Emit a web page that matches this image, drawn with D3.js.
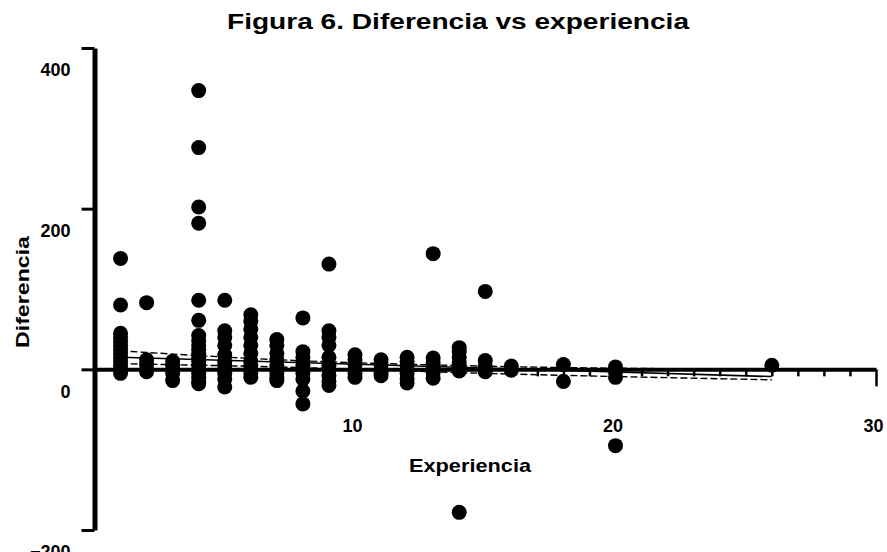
<!DOCTYPE html>
<html>
<head>
<meta charset="utf-8">
<script src="https://cdn.jsdelivr.net/npm/d3@7/dist/d3.min.js"></script>
<style>
  body { margin: 0; background: #fff; }
  svg { display: block; }
  text { font-family: "Liberation Sans Narrow", "Liberation Sans", Arial, sans-serif; font-weight: bold; fill: #000; }
</style>
</head>
<body>
<svg id="chart" width="887" height="552"></svg>
<script>
// ---- data ----
const chartTitle = "Figura 6. Diferencia vs experiencia";
const xTitle = "Experiencia";
const yTitle = "Diferencia";
const xTickLabels = [10, 20, 30];
const yTickValues = [400, 200, 0, -200];

// experience (years) of each column of points
const expYears = [1, 2, 3, 4, 5, 6, 7, 8, 9, 10, 11, 12, 13, 14, 15, 16, 18, 20, 26];
// "Diferencia" values in each column
const difValues = [
  [138, 80, 45, 40, 35, 30, 25, 20, 15, 10, 5, 0, -5],
  [83, 12, 6, 0, -3],
  [10, 5, 0, -5, -14],
  [347, 276, 202, 182, 86, 61, 42, 36, 30, 25, 20, 15, 10, 5, 0, -5, -10, -15, -18],
  [86, 48, 40, 30, 18, 10, 5, 0, -5, -12, -22],
  [68, 60, 50, 40, 30, 20, 10, 5, 0, -5, -10],
  [37, 30, 20, 12, 5, 0, -5, -10, -14],
  [64, 22, 15, 10, 5, 0, -5, -12, -27, -43],
  [131, 48, 40, 30, 15, 5, 0, -8, -15, -20],
  [18, 12, 6, 0, -5, -10],
  [12, 6, 0, -4, -8],
  [15, 10, 5, 0, -5, -12, -17],
  [144, 14, 8, 2, -4, -11],
  [27, 22, 15, 8, 2, -2, -178],
  [97, 11, 4, -3],
  [4, -1],
  [6, -15],
  [3, -3, -10, -95],
  [5]
];

// fitted line and its band
const fitX = [1, 26];
const fitY = [15, -9];
const bandX = [1, 7, 15, 26];
const bandUpper = [23, 12, 4, 0];
const bandLower = [7, 3, -5, -13];

// ---- drawing ----
const svg = d3.select("#chart");
const x = d3.scaleLinear().domain([0, 30]).range([94.5, 876]);
const y = d3.scaleLinear().domain([-200, 400]).range([530, 48]);

const points = [];
expYears.forEach((e, i) => difValues[i].forEach(v => points.push({ e, v })));

// title
svg.append("text")
  .attr("x", 458).attr("y", 29)
  .attr("text-anchor", "middle")
  .attr("font-size", 22)
  .attr("textLength", 462).attr("lengthAdjust", "spacingAndGlyphs")
  .text(chartTitle);

// points
svg.append("g").selectAll("circle")
  .data(points).join("circle")
  .attr("cx", d => x(d.e))
  .attr("cy", d => y(d.v))
  .attr("r", 7.5)
  .attr("fill", "#000");

// fitted line
const line = d3.line().x(d => x(d[0])).y(d => y(d[1]));
svg.append("path")
  .attr("d", line(fitX.map((v, i) => [v, fitY[i]])))
  .attr("fill", "none").attr("stroke", "#000").attr("stroke-width", 1.6);
[bandUpper, bandLower].forEach(b => {
  svg.append("path")
    .attr("d", d3.line().curve(d3.curveMonotoneX).x(d => x(d[0])).y(d => y(d[1]))(bandX.map((v, i) => [v, b[i]])))
    .attr("fill", "none").attr("stroke", "#000").attr("stroke-width", 1.4)
    .attr("stroke-dasharray", "7,3");
});

// x axis
const xAxis = d3.axisBottom(x)
  .tickValues(d3.range(1, 31))
  .tickSize(7)
  .tickSizeOuter(0)
  .tickFormat(d => xTickLabels.includes(d) ? d : "");
const gx = svg.append("g").attr("transform", `translate(0,${y(0)})`).call(xAxis);
gx.select(".domain").attr("stroke-width", 4).attr("stroke", "#000");
gx.selectAll(".tick line").attr("stroke-width", 2.5).attr("stroke", "#000")
  .attr("y2", d => d === 30 ? 17 : 7);
gx.selectAll(".tick text")
  .attr("y", 50).attr("dx", -3)
  .attr("font-size", 18).attr("font-family", null);

// y axis
const yAxis = d3.axisLeft(y)
  .tickValues(yTickValues)
  .tickSize(13)
  .tickPadding(11)
  .tickSizeOuter(0);
const gy = svg.append("g").attr("transform", `translate(${x(0)},0)`).call(yAxis);
gy.select(".domain").attr("stroke-width", 5).attr("stroke", "#000");
gy.selectAll(".tick line").attr("stroke-width", 3).attr("stroke", "#000");
gy.selectAll(".tick text")
  .attr("dy", "1.55em")
  .attr("font-size", 18).attr("font-family", null);

// axis titles
svg.append("text")
  .attr("x", 470).attr("y", 472)
  .attr("text-anchor", "middle")
  .attr("font-size", 19)
  .attr("textLength", 122).attr("lengthAdjust", "spacingAndGlyphs")
  .text(xTitle);
svg.append("text")
  .attr("transform", "translate(29,292) rotate(-90)")
  .attr("text-anchor", "middle")
  .attr("font-size", 19)
  .attr("textLength", 112).attr("lengthAdjust", "spacingAndGlyphs")
  .text(yTitle);
</script>
</body>
</html>
